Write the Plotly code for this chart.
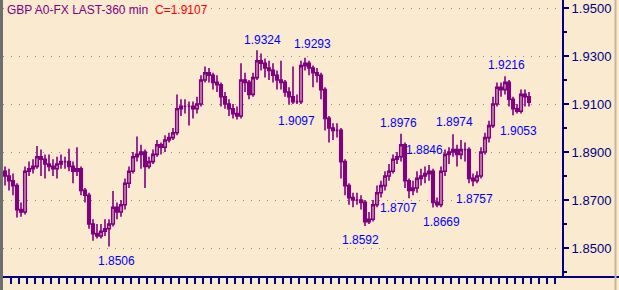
import plotly.graph_objects as go

# ---- data ----
opens = [1.882,1.880,1.878,1.876,1.866,1.865,1.882,1.883,1.884,1.888,1.887,1.885,1.884,1.883,1.885,1.886,
         1.886,1.884,1.882,1.883,1.874,1.872,1.860,1.856,1.855,1.857,1.858,1.860,1.867,1.865,1.868,1.877,
         1.882,1.888,1.889,1.890,1.884,1.886,1.889,1.893,1.892,1.895,1.896,1.898,1.908,1.909,1.909,1.909,
         1.908,1.910,1.920,1.923,1.922,1.919,1.918,1.913,1.910,1.908,1.906,1.905,1.920,1.919,1.914,1.921,
         1.928,1.927,1.925,1.924,1.922,1.920,1.919,1.915,1.913,1.911,1.911,1.926,1.927,1.925,1.923,1.922,
         1.916,1.904,1.900,1.899,1.899,1.886,1.876,1.871,1.870,1.870,1.869,1.861,1.862,1.868,1.873,1.876,
         1.880,1.882,1.887,1.888,1.893,1.878,1.874,1.875,1.879,1.880,1.881,1.882,1.869,1.868,1.882,1.889,
         1.890,1.891,1.889,1.891,1.891,1.879,1.878,1.880,1.890,1.896,1.901,1.910,1.917,1.916,1.919,1.912,
         1.908,1.907,1.914,1.913]
highs = [1.884,1.883,1.881,1.877,1.869,1.884,1.886,1.887,1.8925,1.891,1.889,1.889,1.887,1.888,1.889,1.888,
         1.8914,1.886,1.892,1.884,1.875,1.873,1.862,1.860,1.860,1.862,1.862,1.8738,1.869,1.870,1.879,1.884,
         1.890,1.8965,1.893,1.891,1.888,1.891,1.895,1.894,1.897,1.898,1.900,1.914,1.912,1.912,1.911,1.911,
         1.913,1.922,1.9256,1.925,1.923,1.922,1.919,1.915,1.912,1.910,1.909,1.927,1.923,1.920,1.923,1.9324,
         1.931,1.929,1.928,1.927,1.924,1.928,1.920,1.917,1.9256,1.914,1.928,1.9293,1.928,1.926,1.925,1.923,
         1.917,1.905,1.902,1.902,1.900,1.887,1.877,1.873,1.873,1.872,1.870,1.865,1.870,1.876,1.878,1.882,
         1.885,1.889,1.890,1.8976,1.894,1.879,1.878,1.882,1.883,1.884,1.8846,1.883,1.871,1.884,1.891,1.892,
         1.8974,1.893,1.895,1.894,1.892,1.881,1.882,1.892,1.898,1.903,1.913,1.919,1.919,1.9216,1.920,1.913,
         1.910,1.916,1.916,1.915]
lows = [1.876,1.874,1.872,1.8627,1.863,1.864,1.880,1.881,1.883,1.880,1.879,1.882,1.880,1.879,1.883,1.883,
        1.882,1.877,1.880,1.872,1.869,1.858,1.853,1.854,1.854,1.855,1.8506,1.859,1.862,1.863,1.866,1.875,
        1.881,1.886,1.883,1.875,1.883,1.885,1.888,1.889,1.890,1.894,1.895,1.897,1.905,1.906,1.901,1.904,
        1.906,1.909,1.919,1.919,1.916,1.915,1.909,1.908,1.905,1.904,1.9035,1.904,1.915,1.912,1.913,1.920,
        1.924,1.921,1.920,1.919,1.916,1.916,1.913,1.9097,1.910,1.910,1.910,1.924,1.922,1.917,1.919,1.912,
        1.899,1.894,1.895,1.896,1.879,1.872,1.868,1.867,1.868,1.866,1.8592,1.860,1.861,1.867,1.871,1.874,
        1.878,1.881,1.885,1.886,1.875,1.8707,1.872,1.873,1.876,1.877,1.878,1.8669,1.867,1.867,1.880,1.885,
        1.888,1.884,1.887,1.886,1.877,1.8757,1.877,1.879,1.889,1.894,1.900,1.909,1.913,1.914,1.909,1.9053,
        1.906,1.906,1.909,1.909]
closes = [1.880,1.878,1.876,1.866,1.865,1.882,1.883,1.884,1.888,1.887,1.885,1.884,1.883,1.885,1.886,1.886,
          1.884,1.882,1.883,1.874,1.872,1.860,1.856,1.855,1.857,1.858,1.860,1.867,1.865,1.868,1.877,1.882,
          1.888,1.889,1.890,1.884,1.886,1.889,1.893,1.892,1.895,1.896,1.898,1.908,1.909,1.909,1.909,1.908,
          1.910,1.920,1.923,1.922,1.919,1.918,1.913,1.910,1.908,1.906,1.905,1.920,1.919,1.914,1.921,1.928,
          1.927,1.925,1.924,1.922,1.920,1.919,1.915,1.913,1.911,1.911,1.926,1.927,1.925,1.923,1.922,1.916,
          1.904,1.900,1.899,1.899,1.886,1.876,1.871,1.870,1.870,1.869,1.861,1.862,1.868,1.873,1.876,1.880,
          1.882,1.887,1.888,1.893,1.878,1.874,1.875,1.879,1.880,1.881,1.882,1.869,1.868,1.882,1.889,1.890,
          1.891,1.889,1.891,1.891,1.879,1.878,1.880,1.890,1.896,1.901,1.910,1.917,1.916,1.919,1.912,1.908,
          1.907,1.914,1.913,1.9107]
bar_index = list(range(len(closes)))

label_texts = ["1.8506", "1.9324", "1.9293", "1.9097", "1.8592", "1.8976", "1.8707",
               "1.8846", "1.8974", "1.8669", "1.8757", "1.9216", "1.9053"]
label_x = [27.75, 64.25, 76.75, 72.75, 88.75, 98.25, 98.25, 104.75, 112.25, 109.0, 117.25, 125.25, 128.25]
label_y = [1.84438, 1.93667, 1.9350, 1.90292, 1.85333, 1.90208, 1.86667, 1.89083, 1.9025, 1.86083,
           1.87042, 1.92625, 1.89875]

title_text = "GBP A0-FX LAST-360 min"
last_text = "C=1.9107"

# ---- styling ----
BG = "#FAEAD0"
PURPLE = "#800080"
NAVY = "#000080"

fig = go.Figure()
fig.add_trace(go.Candlestick(
    x=bar_index, open=opens, high=highs, low=lows, close=closes,
    increasing=dict(line=dict(color=PURPLE, width=1.6), fillcolor="rgba(0,0,0,0)"),
    decreasing=dict(line=dict(color=PURPLE, width=1.6), fillcolor=PURPLE),
    whiskerwidth=0, showlegend=False, hoverinfo="skip",
))

for t, x, y in zip(label_texts, label_x, label_y):
    fig.add_annotation(x=x, y=y, xref="x", yref="y", text=t, showarrow=False,
                       font=dict(family="Liberation Sans, Arial", size=12, color="#0000FF"),
                       xanchor="center", yanchor="middle")

fig.add_annotation(x=0, y=1, xref="paper", yref="paper", xshift=2, yshift=-1,
                   text=title_text, showarrow=False, xanchor="left", yanchor="top",
                   font=dict(family="Liberation Sans, Arial", size=12, color=PURPLE))
fig.add_annotation(x=0, y=1, xref="paper", yref="paper", xshift=150, yshift=-1,
                   text=last_text, showarrow=False, xanchor="left", yanchor="top",
                   font=dict(family="Liberation Sans, Arial", size=12, color="#FF0000"))

# borders
fig.add_shape(type="rect", xref="paper", yref="paper", x0=-3/559, x1=0, y0=-13/277, y1=1,
              fillcolor="#6E6E6E", line=dict(width=0), layer="above")
fig.add_shape(type="line", xref="paper", yref="paper", x0=0, x1=616/559, y0=0, y1=0,
              line=dict(color=NAVY, width=2), layer="above")
fig.add_shape(type="line", xref="paper", yref="paper", x0=612.5/559, x1=612.5/559, y0=-13/277, y1=1,
              line=dict(color="#C8B698", width=2), layer="above")

fig.update_layout(
    width=619, height=290,
    margin=dict(l=3, r=57, t=0, b=13),
    paper_bgcolor=BG, plot_bgcolor=BG,
    showlegend=False,
    boxgap=0.1,
    xaxis=dict(
        range=[-0.5, -0.5 + 559/4], showgrid=False, zeroline=False,
        rangeslider=dict(visible=False),
        showticklabels=False, ticks="outside", ticklen=6, tickwidth=1.5, tickcolor=NAVY,
        tickmode="linear", tick0=1.4, dtick=2,
        showline=False,
    ),
    yaxis=dict(
        side="right", range=[1.95 - 269/2400, 1.95 + 8/2400],
        tickmode="linear", tick0=1.85, dtick=0.02, tickformat=".4f",
        ticks="outside", ticklen=5, tickwidth=1.5, tickcolor=NAVY,
        tickfont=dict(family="Liberation Sans, Arial", size=13, color=NAVY),
        showline=True, linecolor=NAVY, linewidth=2,
        showgrid=True, gridcolor="#8C8C8C", gridwidth=1, griddash="1px,7px",
        zeroline=False,
        minor=dict(tickmode="linear", dtick=0.01, ticks="outside", ticklen=3,
                   tickcolor=NAVY, tickwidth=1.5, showgrid=False),
    ),
)

fig.write_html("out.html")
